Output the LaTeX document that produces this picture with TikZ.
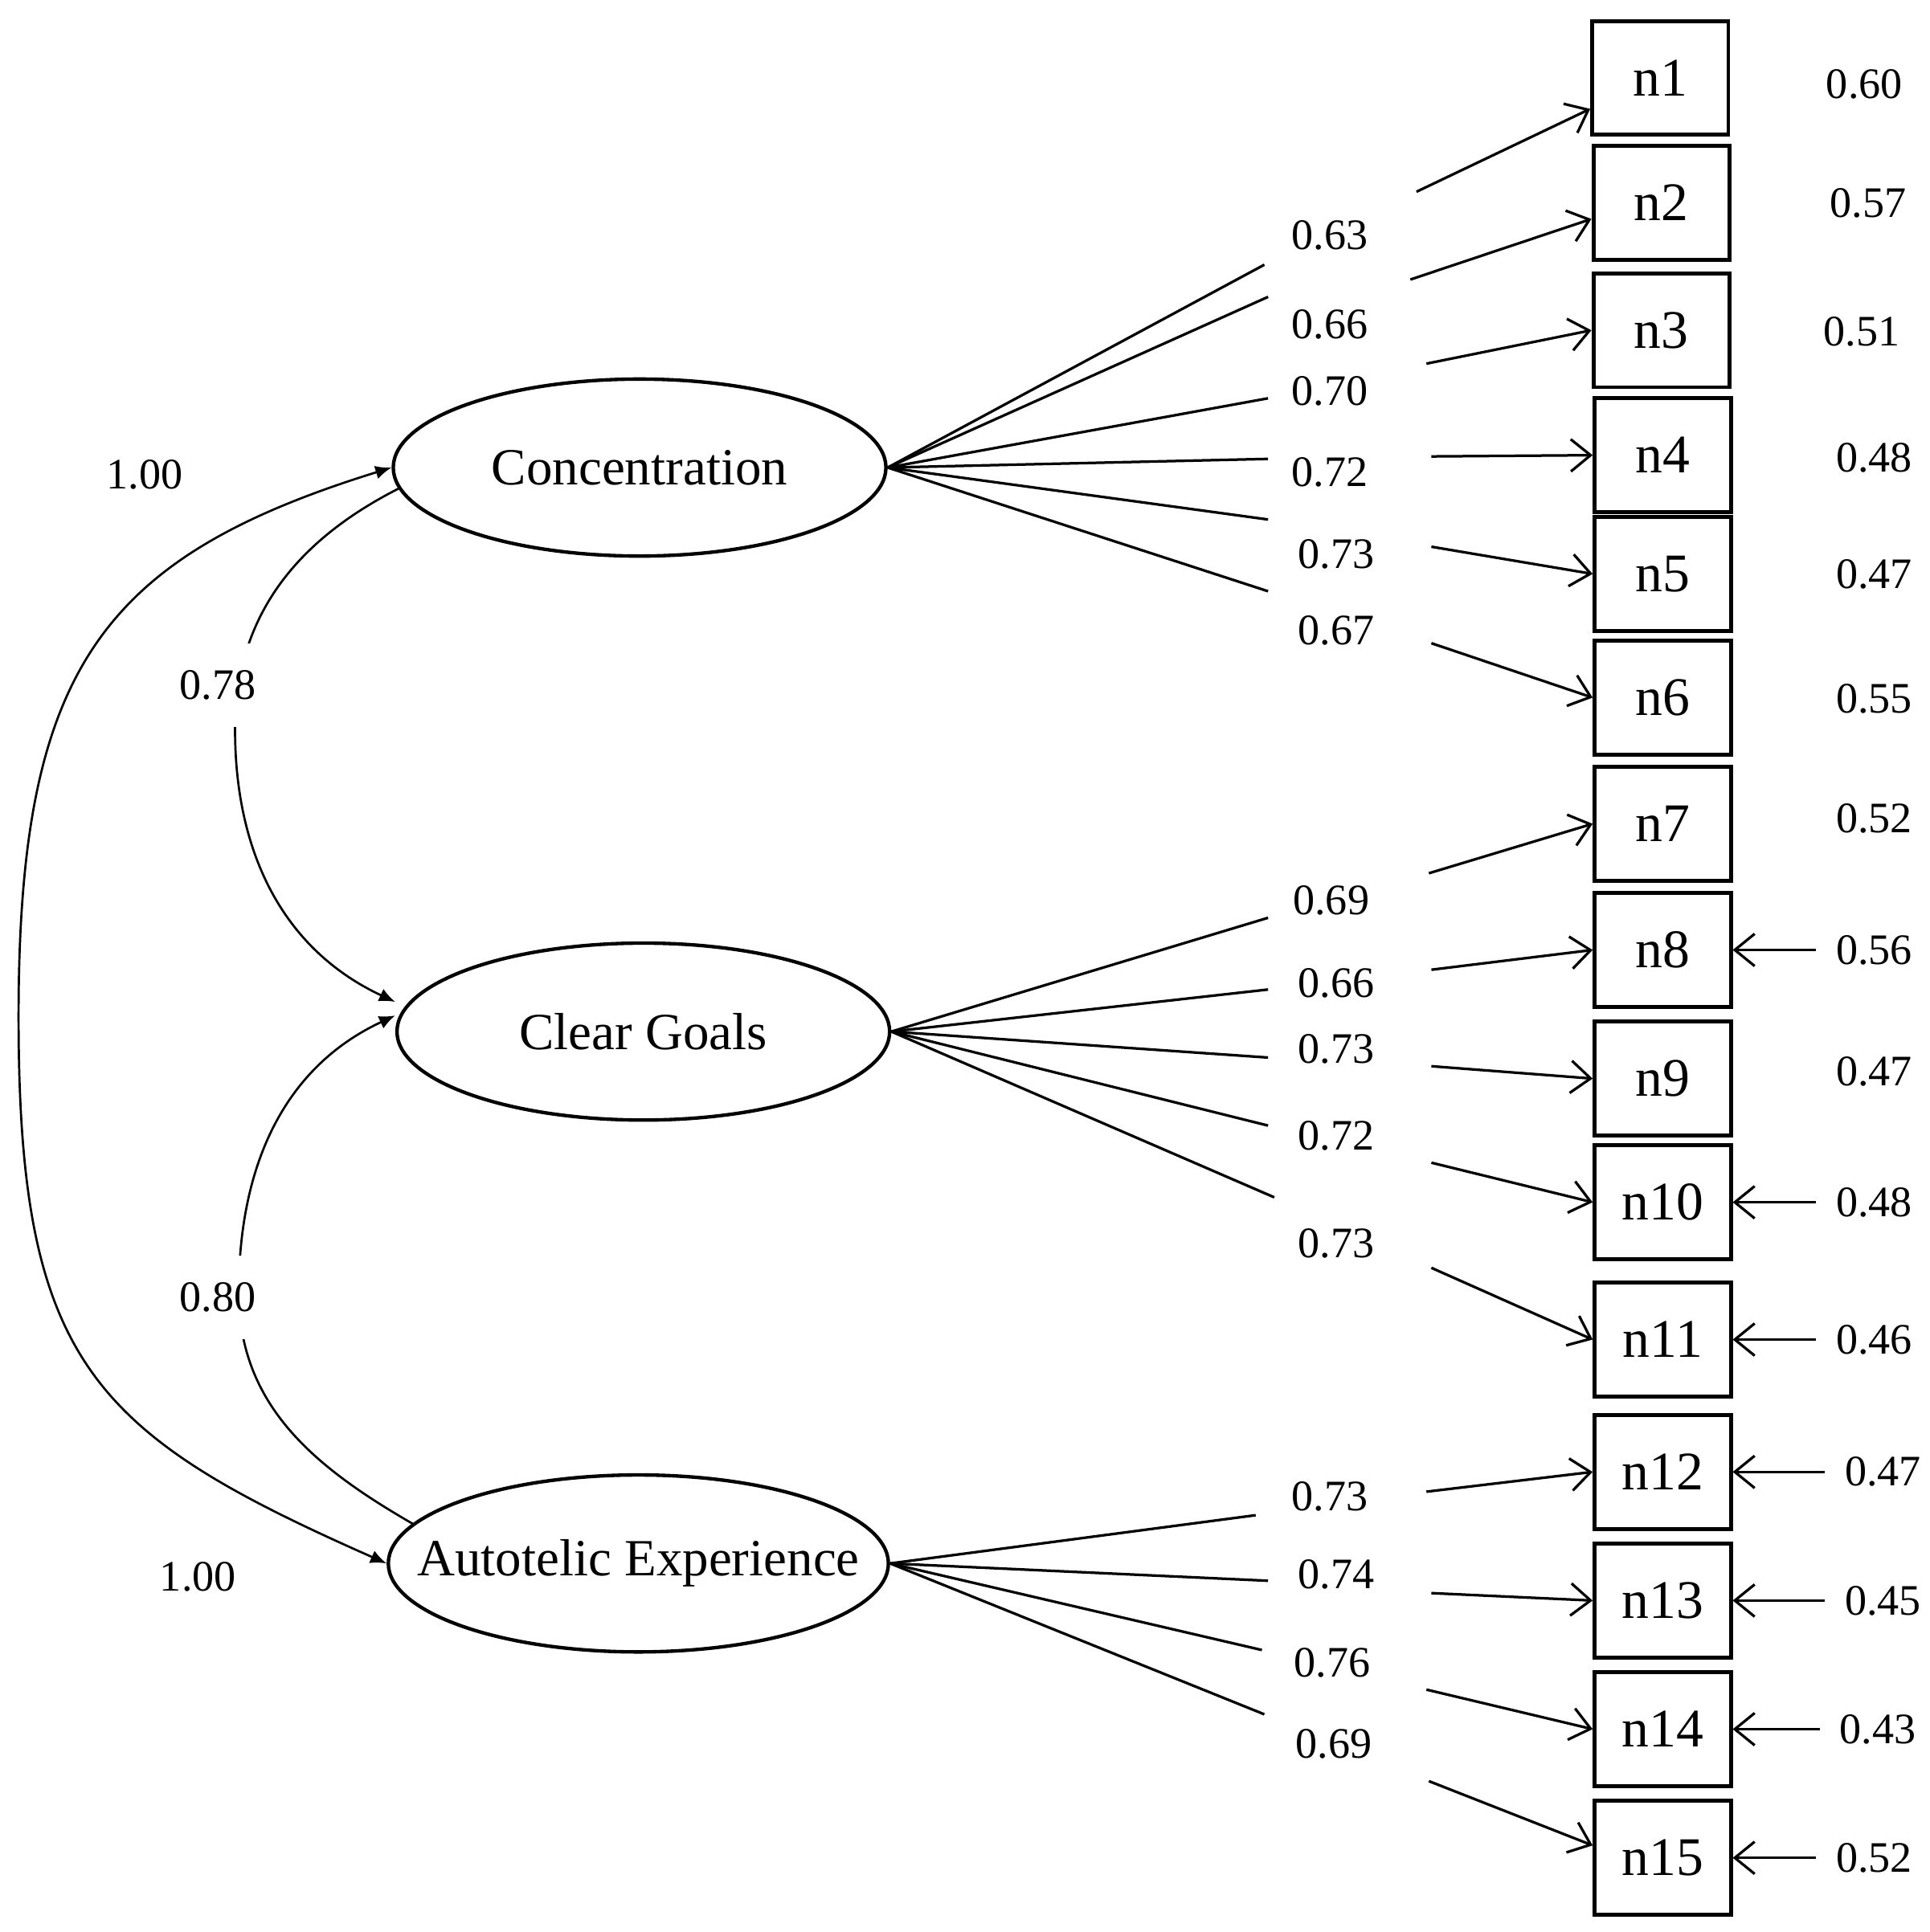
\documentclass[tikz,border=0pt]{standalone}
\usepackage{fontspec}
\setmainfont{Liberation Serif}
\usetikzlibrary{shapes.geometric,arrows.meta}
\tikzset{
  factor/.style={ellipse, draw, line width=0.8pt, minimum width=3.98cm, minimum height=1.43cm, inner sep=0pt, font=\fontsize{12}{14}\selectfont},
  indicator/.style={rectangle, draw, line width=0.9pt, minimum width=1.1cm, minimum height=0.92cm, inner sep=0pt, font=\fontsize{12.5}{14}\selectfont},
  coef/.style={font=\fontsize{10}{12}\selectfont, inner sep=1pt},
  gaplabel/.style={coef, fill=white, inner xsep=0.1cm, inner ysep=0.22cm},
  loading/.style={line width=0.6pt},
  barb/.style={-{Straight Barb[length=1.6mm,width=2.6mm]}, line width=0.6pt},
  cov/.style={line width=0.5pt, -{Latex[length=1.3mm,width=1.1mm]}}
}
\begin{document}
\begin{tikzpicture}[x=0.01cm, y=0.01cm]
    \useasboundingbox (0,0) rectangle (1560,-1562);

    % factors
    \node (conc) at (517,-378) [factor] {Concentration};
    \node (goal) at (520,-834) [factor] {Clear Goals};
    \node (auto) at (516,-1264) [factor, minimum width=4.04cm] {\makebox[0pt]{Autotelic Experience}};

    % items
    \node (n1) at (1342,-63) [indicator] {n1};
    \node (n2) at (1343,-164) [indicator] {n2};
    \node (n3) at (1343,-267) [indicator] {n3};
    \node (n4) at (1344,-368) [indicator] {n4};
    \node (n5) at (1344,-464) [indicator] {n5};
    \node (n6) at (1344,-564) [indicator] {n6};
    \node (n7) at (1344,-666) [indicator] {n7};
    \node (n8) at (1344,-768) [indicator] {n8};
    \node (n9) at (1344,-872) [indicator] {n9};
    \node (n10) at (1344,-972) [indicator] {n10};
    \node (n11) at (1344,-1083) [indicator] {n11};
    \node (n12) at (1344,-1190) [indicator] {n12};
    \node (n13) at (1344,-1294) [indicator] {n13};
    \node (n14) at (1344,-1398) [indicator] {n14};
    \node (n15) at (1344,-1502) [indicator] {n15};

    % loadings
    \node (c1) at (1075,-190) [coef] {0.63};
    \node (c2) at (1075,-262) [coef] {0.66};
    \node (c3) at (1075,-316) [coef] {0.70};
    \node (c4) at (1075,-382) [coef] {0.72};
    \node (c5) at (1080,-448) [coef] {0.73};
    \node (c6) at (1080,-510) [coef] {0.67};
    \node (c7) at (1076,-728) [coef] {0.69};
    \node (c8) at (1080,-795) [coef] {0.66};
    \node (c9) at (1080,-848) [coef] {0.73};
    \node (c10) at (1080,-918) [coef] {0.72};
    \node (c11) at (1080,-1005) [coef] {0.73};
    \node (c12) at (1075,-1210) [coef] {0.73};
    \node (c13) at (1080,-1273) [coef] {0.74};
    \node (c14) at (1077,-1344) [coef] {0.76};
    \node (c15) at (1078,-1410) [coef] {0.69};

    \coordinate (a1) at (1022,-214);  \coordinate (b1) at (1145,-155);
    \coordinate (a2) at (1025,-240);  \coordinate (b2) at (1140,-226);
    \coordinate (a3) at (1025,-322);  \coordinate (b3) at (1153,-294);
    \coordinate (a4) at (1025,-371);  \coordinate (b4) at (1157,-369);
    \coordinate (a5) at (1025,-420);  \coordinate (b5) at (1157,-442);
    \coordinate (a6) at (1025,-478);  \coordinate (b6) at (1157,-520);
    \coordinate (a7) at (1025,-742);  \coordinate (b7) at (1155,-706);
    \coordinate (a8) at (1025,-800);  \coordinate (b8) at (1157,-784);
    \coordinate (a9) at (1025,-855);  \coordinate (b9) at (1157,-862);
    \coordinate (a10) at (1025,-910); \coordinate (b10) at (1157,-940);
    \coordinate (a11) at (1030,-968); \coordinate (b11) at (1157,-1025);
    \coordinate (a12) at (1015,-1225); \coordinate (b12) at (1153,-1206);
    \coordinate (a13) at (1025,-1278); \coordinate (b13) at (1157,-1288);
    \coordinate (a14) at (1020,-1334); \coordinate (b14) at (1153,-1366);
    \coordinate (a15) at (1022,-1386); \coordinate (b15) at (1155,-1440);

    \draw [loading] (conc.east) to (a1);
    \draw [loading] (conc.east) to (a2);
    \draw [loading] (conc.east) to (a3);
    \draw [loading] (conc.east) to (a4);
    \draw [loading] (conc.east) to (a5);
    \draw [loading] (conc.east) to (a6);
    \draw [loading] (goal.east) to (a7);
    \draw [loading] (goal.east) to (a8);
    \draw [loading] (goal.east) to (a9);
    \draw [loading] (goal.east) to (a10);
    \draw [loading] (goal.east) to (a11);
    \draw [loading] (auto.east) to (a12);
    \draw [loading] (auto.east) to (a13);
    \draw [loading] (auto.east) to (a14);
    \draw [loading] (auto.east) to (a15);

    \draw [barb] (b1) to ([yshift=-0.25cm]n1.west);
    \draw [barb] (b2) to ([yshift=-0.13cm]n2.west);
    \draw [barb] (b3) to (n3.west);
    \draw [barb] (b4) to (n4.west);
    \draw [barb] (b5) to (n5.west);
    \draw [barb] (b6) to (n6.west);
    \draw [barb] (b7) to (n7.west);
    \draw [barb] (b8) to (n8.west);
    \draw [barb] (b9) to (n9.west);
    \draw [barb] (b10) to (n10.west);
    \draw [barb] (b11) to (n11.west);
    \draw [barb] (b12) to (n12.west);
    \draw [barb] (b13) to (n13.west);
    \draw [barb] (b14) to (n14.west);
    \draw [barb] (b15) to ([yshift=0.1cm]n15.west);

    % error variances
    \node (e1) at (1507,-68) [coef] {0.60};
    \node (e2) at (1510,-164) [coef] {0.57};
    \node (e3) at (1505,-268) [coef] {0.51};
    \node (e4) at (1515,-370) [coef] {0.48};
    \node (e5) at (1515,-464) [coef] {0.47};
    \node (e6) at (1515,-565) [coef] {0.55};
    \node (e7) at (1515,-662) [coef] {0.52};
    \node (e8) at (1515,-768) [coef] {0.56};
    \node (e9) at (1515,-866) [coef] {0.47};
    \node (e10) at (1515,-972) [coef] {0.48};
    \node (e11) at (1515,-1083) [coef] {0.46};
    \node (e12) at (1522,-1190) [coef] {0.47};
    \node (e13) at (1522,-1294) [coef] {0.45};
    \node (e14) at (1518,-1398) [coef] {0.43};
    \node (e15) at (1515,-1502) [coef] {0.52};

    \draw [barb] ([xshift=-0.12cm]e8.west) to (n8.east);
    \draw [barb] ([xshift=-0.12cm]e10.west) to (n10.east);
    \draw [barb] ([xshift=-0.12cm]e11.west) to (n11.east);
    \draw [barb] ([xshift=-0.12cm]e12.west) to (n12.east);
    \draw [barb] ([xshift=-0.12cm]e13.west) to (n13.east);
    \draw [barb] ([xshift=-0.12cm]e14.west) to (n14.east);
    \draw [barb] ([xshift=-0.12cm]e15.west) to (n15.east);

    % correlations
    \coordinate (m78) at (190,-590);
    \coordinate (m80) at (193,-1045);
    \coordinate (mout) at (15,-822);
    \draw [cov] (conc.185) to[out=207, in=90] (m78) to[out=-90, in=155] ([yshift=0.24cm]goal.west);
    \draw [cov] (auto.170) to[out=150, in=-90] (m80) to[out=90, in=205] ([yshift=0.13cm]goal.west);
    \draw [cov, {Latex[length=1.3mm,width=1.1mm]}-{Latex[length=1.3mm,width=1.1mm]}]
        (conc.west) .. controls (81,-451) and (15,-542) .. (mout)
        .. controls (15,-1102) and (75,-1159) .. (auto.west);

    \node (r78) at (176,-554) [gaplabel] {0.78};
    \node (r80) at (176,-1049) [gaplabel] {0.80};
    \node (v1) at (117,-384) [coef] {1.00};
    \node (v3) at (160,-1275) [coef] {1.00};
\end{tikzpicture}
\end{document}
